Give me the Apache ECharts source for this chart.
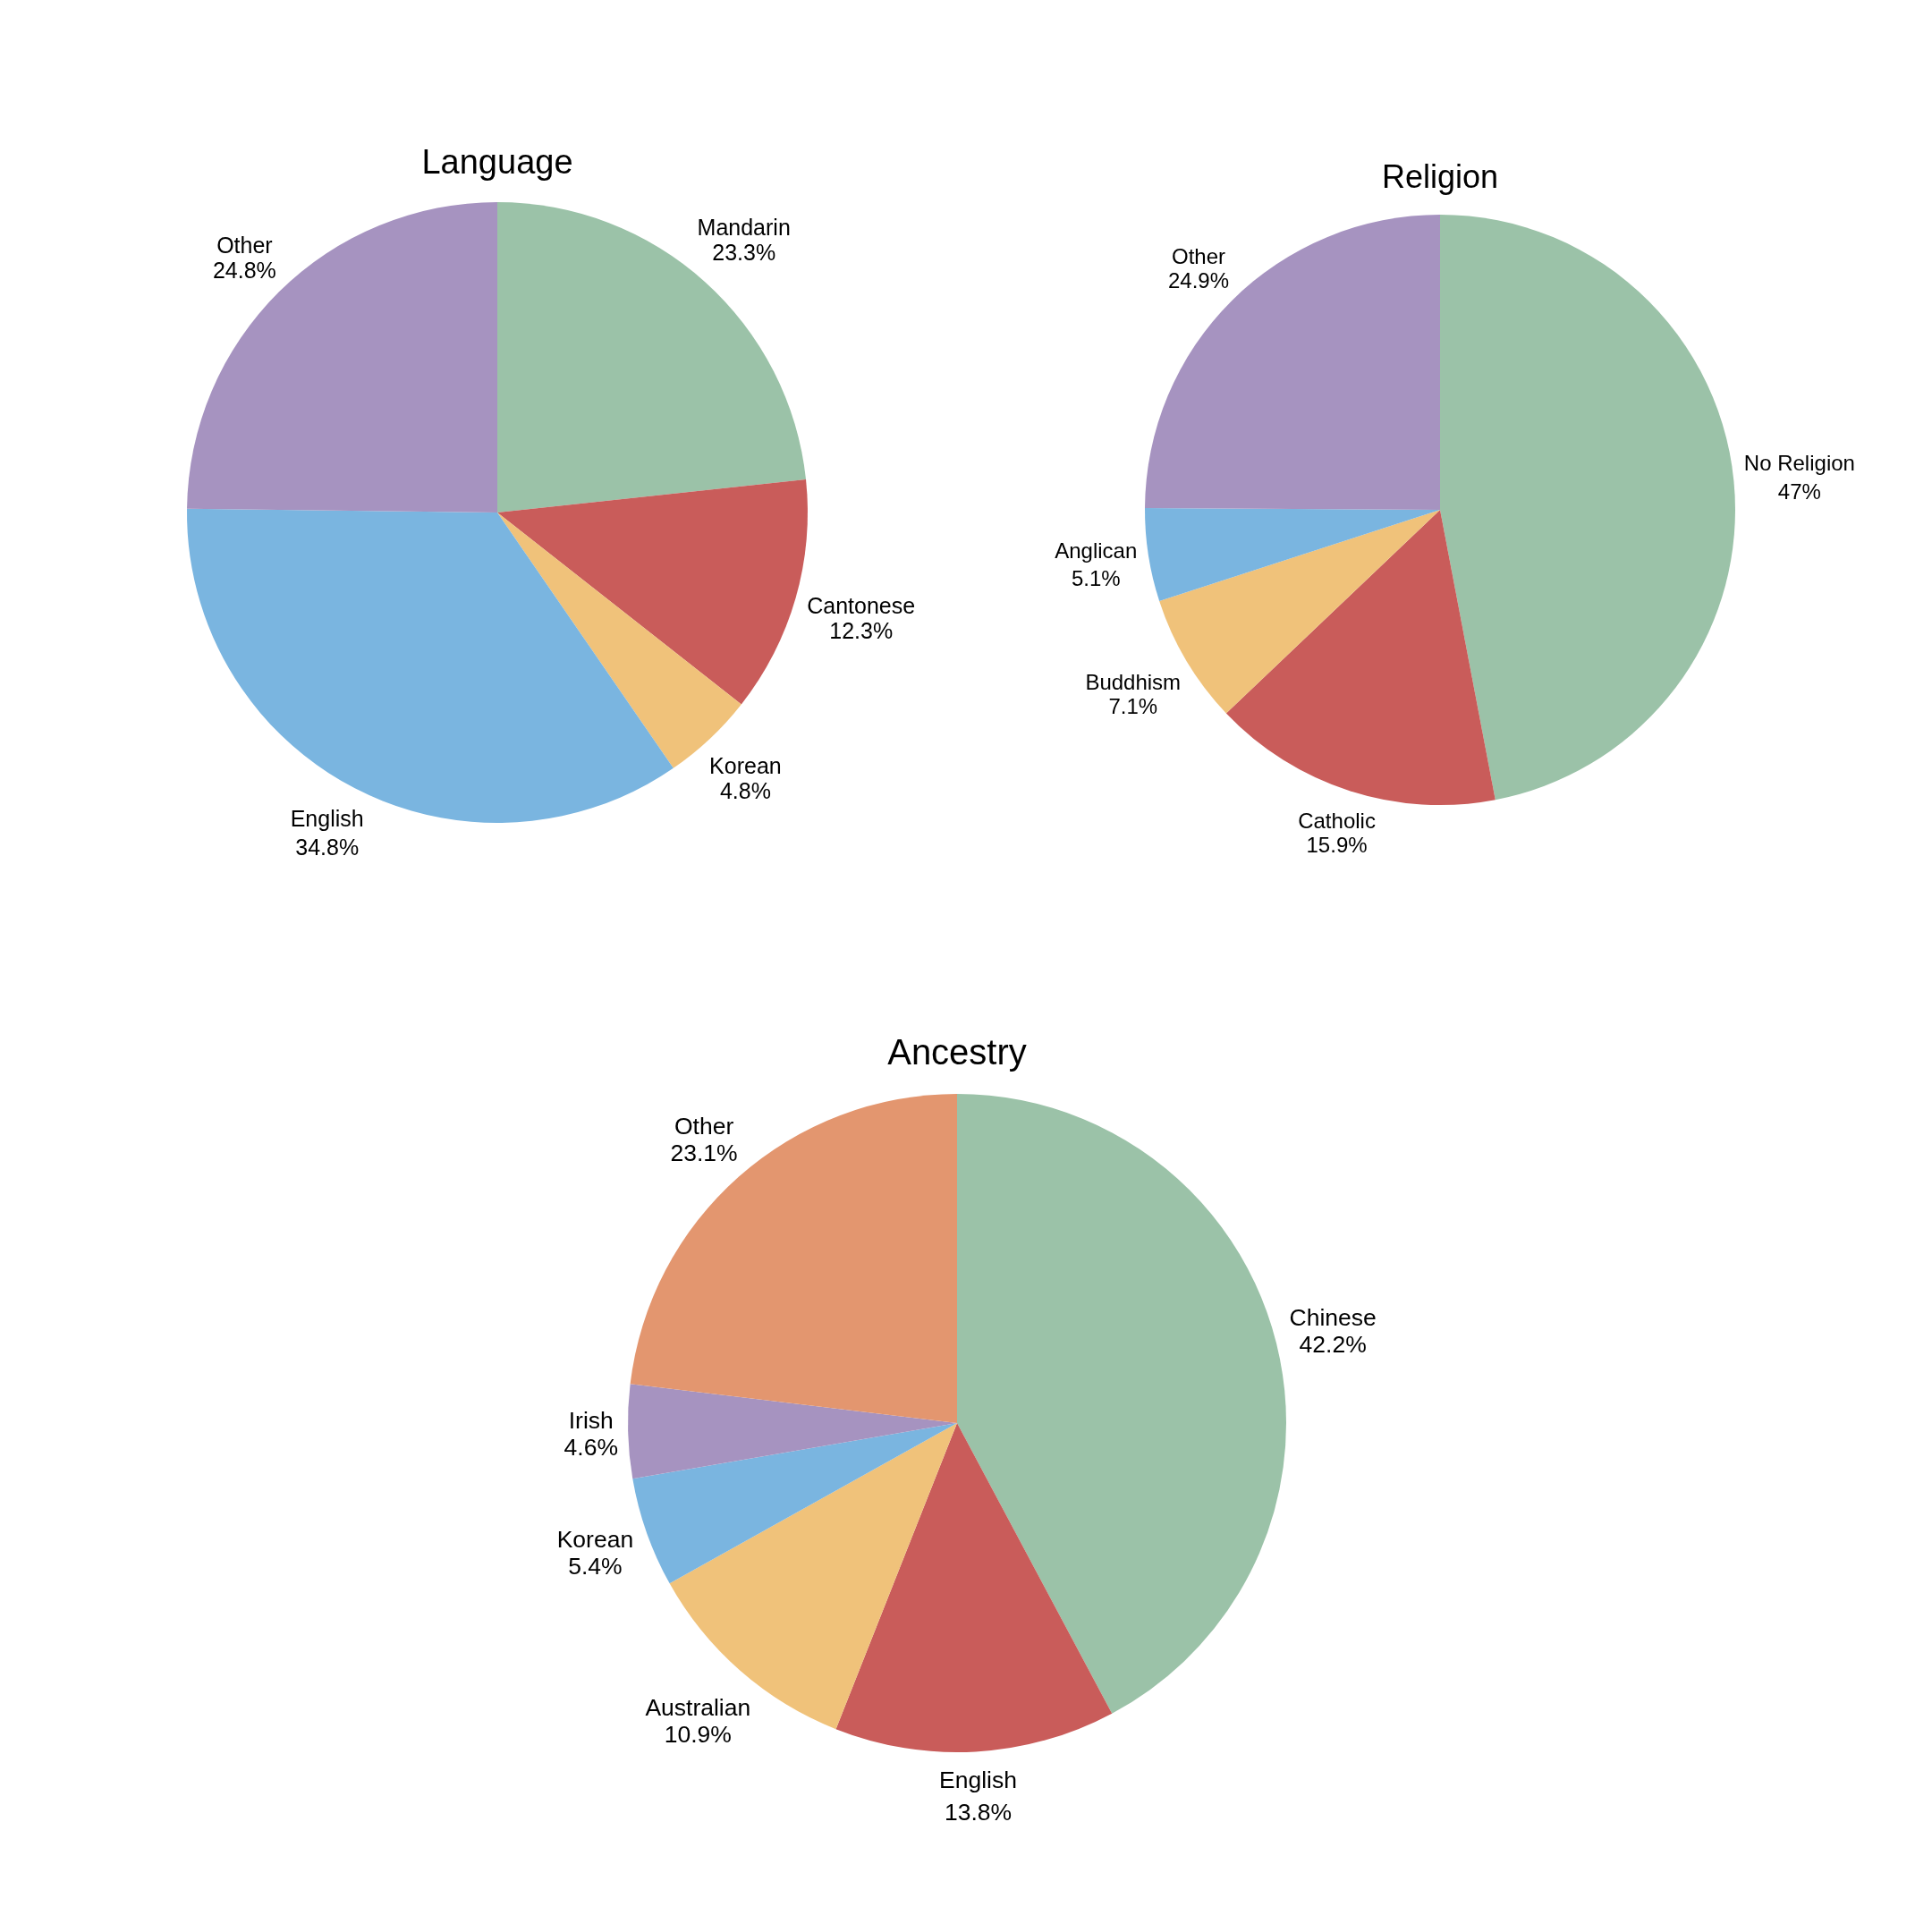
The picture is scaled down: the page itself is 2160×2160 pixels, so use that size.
<!DOCTYPE html>
<html><head><meta charset="utf-8">
<script src="https://cdn.jsdelivr.net/npm/echarts@6/dist/echarts.min.js"></script>
<style>html,body{margin:0;padding:0;background:#fff}#c{width:2160px;height:2160px}</style>
</head><body><div id="c"></div>
<script>
// ---- data ----
const chartTitles = ['Language', 'Religion', 'Ancestry'];
const languageLabels = ['Mandarin', 'Cantonese', 'Korean', 'English', 'Other'];
const languageValues = [23.3, 12.3, 4.8, 34.8, 24.8];
const religionLabels = ['No Religion', 'Catholic', 'Buddhism', 'Anglican', 'Other'];
const religionValues = [47, 15.9, 7.1, 5.1, 24.9];
const ancestryLabels = ['Chinese', 'English', 'Australian', 'Korean', 'Irish', 'Other'];
const ancestryValues = [42.2, 13.8, 10.9, 5.4, 4.6, 23.1];

const palette = ['#9BC2A8', '#C95C5A', '#F0C27A', '#7AB5E0', '#A693C0', '#E3966F'];
const FONT = '"Liberation Sans", Arial, Helvetica, sans-serif';

const pies = [
  {title: chartTitles[0], labels: languageLabels, values: languageValues, cx: 556, cy: 573, r: 347, fs: 25, lh: 28, lhd: 32, tfs: 38, ty: 184},
  {title: chartTitles[1], labels: religionLabels, values: religionValues, cx: 1610, cy: 570, r: 330, fs: 24, lh: 27, lhd: 31.5, tfs: 36, ty: 200},
  {title: chartTitles[2], labels: ancestryLabels, values: ancestryValues, cx: 1070, cy: 1591, r: 368, fs: 26.5, lh: 30, lhd: 36, tfs: 40, ty: 1179}
];
const LABEL_GAP = 1.03; // nearest point of each label box sits at this multiple of the radius

function midAngle(p, idx) {
  const sum = p.values.reduce((a, b) => a + b, 0);
  let cum = 0;
  for (let i = 0; i < idx; i++) cum += p.values[i];
  return (90 - 360 * (cum + p.values[idx] / 2) / sum) * Math.PI / 180;
}

// distance from pie centre to the nearest point of a box of half-size (hw, hh) centred at D*u
function nearestDist(D, ux, uy, hw, hh) {
  const px = D * ux, py = D * uy;
  const qx = Math.max(Math.abs(px) - hw, 0), qy = Math.max(Math.abs(py) - hh, 0);
  return Math.hypot(qx, qy);
}

const chart = echarts.init(document.getElementById('c'), null, {renderer: 'canvas'});

const series = pies.map((p) => ({
  type: 'pie',
  center: [p.cx, p.cy],
  radius: p.r,
  startAngle: 90,
  clockwise: true,
  avoidLabelOverlap: false,
  silent: true,
  animation: false,
  itemStyle: {borderWidth: 0},
  emphasis: {disabled: true},
  labelLine: {show: false},
  label: {
    show: true,
    position: 'outside',
    color: '#000',
    fontFamily: FONT,
    fontSize: p.fs,
    lineHeight: p.lh,
    formatter: (d) => d.name + '\n' + d.value + '%'
  },
  labelLayout: function (params) {
    const q = pies[params.seriesIndex];
    const a = midAngle(q, params.dataIndex);
    const ux = Math.cos(a), uy = -Math.sin(a);
    const hw = params.labelRect.width / 2, hh = params.labelRect.height / 2;
    const target = LABEL_GAP * q.r;
    let lo = 0, hi = target + hw + hh + 10;
    for (let it = 0; it < 60; it++) {
      const mid = (lo + hi) / 2;
      if (nearestDist(mid, ux, uy, hw, hh) < target) lo = mid; else hi = mid;
    }
    const D = (lo + hi) / 2;
    return {
      x: q.cx + D * ux,
      y: q.cy + D * uy + 0.14 * q.fs,
      align: 'center',
      verticalAlign: 'middle'
    };
  },
  data: p.labels.map((n, i) => ({
    name: n,
    value: p.values[i],
    itemStyle: {color: palette[i]},
    label: {lineHeight: /[gjpqy]/.test(n) ? p.lhd : p.lh}
  }))
}));

chart.setOption({
  backgroundColor: '#ffffff',
  animation: false,
  graphic: pies.map(p => ({
    type: 'text',
    x: p.cx,
    y: p.ty,
    silent: true,
    style: {text: p.title, font: p.tfs + 'px ' + FONT, fill: '#000', align: 'center', verticalAlign: 'middle'}
  })),
  series: series
});
</script>
</body></html>
